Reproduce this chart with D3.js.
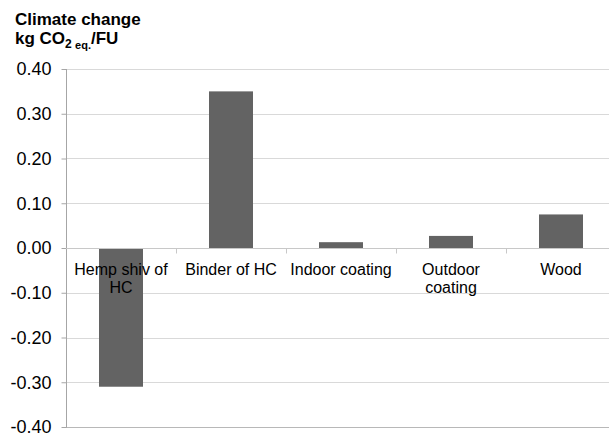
<!DOCTYPE html>
<html>
<head>
<meta charset="utf-8">
<script src="https://cdn.jsdelivr.net/npm/d3@7"></script>
<style>
  body { margin: 0; background: #fff; }
  svg text { font-family: "Liberation Sans", Arial, sans-serif; }
</style>
</head>
<body>
<div id="container"></div>
<script>
const categories = ["Hemp shiv of HC", "Binder of HC", "Indoor coating", "Outdoor coating", "Wood"];
const values = [-0.31, 0.35, 0.013, 0.027, 0.075];
const yTicks = [0.40, 0.30, 0.20, 0.10, 0.00, -0.10, -0.20, -0.30, -0.40];

const width = 609;
const height = 434;
const plotLeft = 66, plotRight = 616, plotTop = 69, plotBottom = 427;

let svg = d3.select("#container")
    .append("svg")
    .attr("width", width)
    .attr("height", height)

let yScale = d3.scaleLinear()
    .domain([-0.4, 0.4])
    .range([plotBottom, plotTop])

let xScale = d3.scaleBand()
    .domain(categories)
    .range([plotLeft, plotRight])

// gridlines
svg.append("g")
    .selectAll("line")
    .data(yTicks)
    .enter()
    .append("line")
    .attr("x1", plotLeft)
    .attr("x2", plotRight)
    .attr("y1", d => Math.round(yScale(d)) + 0.5)
    .attr("y2", d => Math.round(yScale(d)) + 0.5)
    .attr("stroke", d => d == -0.4 ? "#b8b8b8" : "#d9d9d9")
    .attr("stroke-width", 1)

// y axis
const gy = svg.append("g")
    .attr("transform", "translate(" + (plotLeft + 0.5) + ",0)")
    .call(d3.axisLeft(yScale).tickValues(yTicks).tickSize(5).tickPadding(10).tickFormat(d => d.toFixed(2)))
gy.select(".domain").attr("stroke", "#a6a6a6").attr("d", "M0," + yScale(0.4) + "V" + (yScale(-0.4) + 0.5))
gy.selectAll(".tick line").attr("stroke", "#a6a6a6")
gy.selectAll(".tick text")
    .attr("font-size", "18px")
    .attr("fill", "#000")
    .attr("font-family", "Liberation Sans, Arial, sans-serif")

// bars
const barW = xScale.bandwidth() * 0.4;
svg.append("g")
    .selectAll("rect")
    .data(categories)
    .enter()
    .append("rect")
    .attr("x", d => xScale(d) + (xScale.bandwidth() - barW) / 2)
    .attr("y", (d, i) => yScale(Math.max(0, values[i])))
    .attr("width", barW)
    .attr("height", (d, i) => Math.abs(yScale(values[i]) - yScale(0)))
    .attr("fill", "#636363")

// zero axis line with category ticks
const y0 = Math.round(yScale(0)) + 0.5;
svg.append("line")
    .attr("x1", plotLeft).attr("x2", plotRight)
    .attr("y1", y0).attr("y2", y0)
    .attr("stroke", "#c8c8c8")
svg.append("g")
    .selectAll("line")
    .data(categories.slice(1))
    .enter()
    .append("line")
    .attr("x1", d => Math.round(xScale(d)) + 0.5)
    .attr("x2", d => Math.round(xScale(d)) + 0.5)
    .attr("y1", y0)
    .attr("y2", y0 + 5)
    .attr("stroke", "#c8c8c8")

// category labels, wrapped
function wrapLines(text, maxW, fontSize) {
    const ctx = document.createElement("canvas").getContext("2d");
    ctx.font = fontSize + "px Liberation Sans, Arial, sans-serif";
    const words = text.split(" ");
    let lines = [], cur = "";
    words.forEach(w => {
        const t = cur ? cur + " " + w : w;
        if (ctx.measureText(t).width > maxW && cur) { lines.push(cur); cur = w; }
        else cur = t;
    });
    lines.push(cur);
    return lines;
}

const labels = svg.append("g")
    .selectAll("text")
    .data(categories)
    .enter()
    .append("text")
    .attr("text-anchor", "middle")
    .attr("font-size", "16px")
    .attr("fill", "#000")
    .attr("x", d => xScale(d) + xScale.bandwidth() / 2)
    .attr("y", 275)
labels.each(function(d) {
    const lines = wrapLines(d, 105, 16);
    d3.select(this).selectAll("tspan")
        .data(lines)
        .enter()
        .append("tspan")
        .attr("x", xScale(d) + xScale.bandwidth() / 2)
        .attr("dy", (l, i) => i == 0 ? 0 : 17.5)
        .text(l => l)
})

// title
svg.append("text")
    .attr("x", 15).attr("y", 25)
    .attr("font-size", "17px").attr("font-weight", "bold")
    .text("Climate change")
const t2 = svg.append("text")
    .attr("x", 15).attr("y", 44)
    .attr("font-size", "17px").attr("font-weight", "bold")
t2.append("tspan").text("kg CO")
t2.append("tspan").attr("font-size", "12px").attr("dy", 4).text("2 ")
t2.append("tspan").attr("font-size", "11px").attr("dy", 1).text("eq.")
t2.append("tspan").attr("dy", -5).text("/FU")
</script>
</body>
</html>
